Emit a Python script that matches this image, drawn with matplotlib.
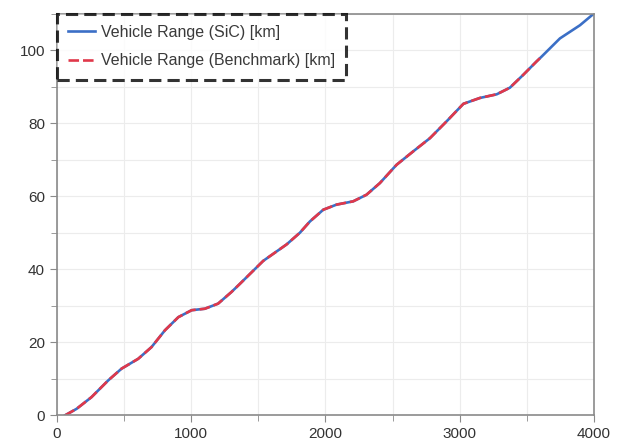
import matplotlib.pyplot as plt
from matplotlib.ticker import MultipleLocator

plt.rcParams['font.family'] = ['Liberation Sans', 'DejaVu Sans']

# time [s] and vehicle range [km]
t_sic = [60, 147, 258, 383, 482, 606, 705, 805, 905, 1004, 1102, 1201, 1301, 1363,
         1537, 1711, 1810, 1885, 1984, 2083, 2207, 2306, 2406, 2530, 2655, 2779,
         2903, 3028, 3151, 3276, 3374, 3473, 3573, 3610, 3747, 3896, 4000]
range_sic = [0, 1.8, 5.0, 9.6, 12.8, 15.5, 18.7, 23.3, 26.9, 28.8, 29.2, 30.6, 33.8, 36.0,
             42.3, 46.8, 50.0, 53.1, 56.3, 57.7, 58.6, 60.4, 63.6, 68.6, 72.3, 75.9,
             80.5, 85.3, 86.9, 87.9, 89.7, 93.2, 96.9, 98.2, 103.2, 106.8, 110.0]

t_bench = [60, 147, 258, 383, 482, 606, 705, 805, 905, 1004, 1102, 1201, 1301, 1363,
           1537, 1711, 1810, 1885, 1984, 2083, 2207, 2306, 2406, 2530, 2655, 2779,
           2903, 3028, 3151, 3276, 3374, 3473, 3573, 3610]
range_bench = [0, 1.8, 5.0, 9.6, 12.8, 15.5, 18.7, 23.3, 26.9, 28.8, 29.2, 30.6, 33.8, 36.0,
               42.3, 46.8, 50.0, 53.1, 56.3, 57.7, 58.6, 60.4, 63.6, 68.6, 72.3, 75.9,
               80.5, 85.3, 86.9, 87.9, 89.7, 93.2, 96.9, 98.2]

fig = plt.figure(figsize=(6.18, 4.45), dpi=100)
ax = fig.add_axes([0.092, 0.0665, 0.869, 0.903])

ax.plot(t_sic, range_sic, color='#3b6fc6', lw=1.9, label='Vehicle Range (SiC) [km]')
ax.plot(t_bench, range_bench, color='#e0384a', lw=1.9, ls=(0, (4, 1.5)),
        label='Vehicle Range (Benchmark) [km]')

ax.set_xlim(0, 4000)
ax.set_ylim(0, 110)
ax.xaxis.set_major_locator(MultipleLocator(1000))
ax.xaxis.set_minor_locator(MultipleLocator(500))
ax.yaxis.set_major_locator(MultipleLocator(20))
ax.yaxis.set_minor_locator(MultipleLocator(10))
ax.grid(True, which='both', color='#ececec', lw=0.8)
ax.set_axisbelow(True)

for s in ax.spines.values():
    s.set_color('#8a8a8a')
    s.set_linewidth(1.2)
ax.tick_params(which='both', colors='#8a8a8a', labelcolor='#333333', labelsize=11)
ax.tick_params(which='major', length=5)
ax.tick_params(which='minor', length=4)

leg = ax.legend(loc='upper left', fontsize=11.5, frameon=True, fancybox=False,
                borderaxespad=0.0, handlelength=1.7, handletextpad=0.35,
                borderpad=0.7, labelspacing=0.85)
leg.get_frame().set_edgecolor('black')
leg.get_frame().set_linestyle((0, (4, 2)))
leg.get_frame().set_linewidth(2.2)
for txt in leg.get_texts():
    txt.set_color('#3a3a3a')

fig.savefig('out.png', dpi=100)
